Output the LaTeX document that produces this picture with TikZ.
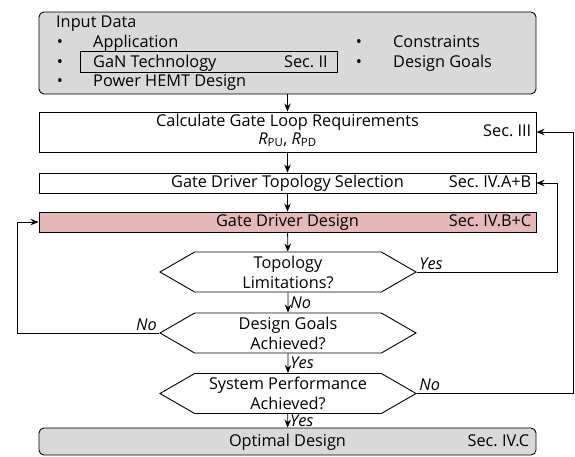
\documentclass[tikz,border=0pt]{standalone}
\usepackage{fontspec}
\setmainfont{Open Sans}
\usetikzlibrary{arrows.meta,shapes.symbols}
\definecolor{inputgray}{RGB}{217,217,217}
\definecolor{designred}{RGB}{230,185,184}
\newcommand\chartfont{\fontsize{16.3}{20}\selectfont}

\tikzset{
	oneline/.style={text height=12pt, text depth=3pt},
	stepbox/.style={draw, line width=0.9pt, minimum width=497pt, inner sep=0pt},
	decision/.style={draw, line width=0.9pt, shape=signal, signal to=west and east,
		signal pointer angle=60, minimum width=256pt, minimum height=40pt,
		inner sep=0pt, align=center},
	flow/.style={-{Stealth[length=8pt,width=6.5pt]}, line width=0.8pt},
	answer/.style={font=\chartfont\itshape, inner sep=2pt},
	secref/.style={anchor=east, inner sep=0pt, oneline},
	bullet/.style={anchor=base, inner sep=0pt},
	item/.style={anchor=base west, inner sep=0pt},
}

\begin{document}
\begin{tikzpicture}[x=1pt, y=-1pt, font=\chartfont]
		%%%%% START %%%%%
		\useasboundingbox (0,0) rectangle (575,456);
		
		% input data block
		\node[stepbox, fill=inputgray, rounded corners=5pt, minimum height=82pt] (input) at (287.5,53) {};
		\node[item] (title) at (56,27) {Input Data};
		\node[bullet] (b1) at (60,47.5) {•};
		\node[bullet] (b2) at (60,67) {•};
		\node[bullet] (b3) at (60,86) {•};
		\node[item] (app) at (93,47.5) {Application};
		\node[item] (gan) at (93,67) {GaN Technology};
		\node[item] (hemt) at (93,86) {Power HEMT Design};
		\node[draw, line width=0.8pt, minimum width=257pt, minimum height=21pt, anchor=west] (ganbox) at (80,61.5) {};
		\node[secref] at ([xshift=-10pt,yshift=-1pt]ganbox.east) {Sec.~II};
		\node[bullet] (b4) at (359,47.5) {•};
		\node[bullet] (b5) at (359,67) {•};
		\node[item] (cons) at (393,47.5) {Constraints};
		\node[item] (goals) at (393,67) {Design Goals};
		
		% design steps
		\node[stepbox, minimum height=40pt, align=center, text depth=6pt] (calc) at (287.5,132)
			{Calculate Gate Loop Requirements\\[-2pt]{\itshape R}\textsubscript{PU}, {\itshape R}\textsubscript{PD}};
		\node[secref] at ([xshift=-5pt]calc.east) {Sec.~III};
		
		\node[stepbox, oneline, minimum height=20pt] (topo) at (287.5,183) {Gate Driver Topology Selection};
		\node[secref] at ([xshift=-5pt]topo.east) {Sec.~IV.A+B};
		
		\node[stepbox, oneline, fill=designred, minimum height=20pt] (gdd) at (287.5,222) {Gate Driver Design};
		\node[secref] at ([xshift=-5pt]gdd.east) {Sec.~IV.B+C};
		
		\node[decision] (lim) at (288,272) {Topology\\Limitations?};
		\node[decision] (goal) at (288,333) {Design Goals\\Achieved?};
		\node[decision] (perf) at (288,393.5) {System Performance\\Achieved?};
		
		\node[stepbox, oneline, fill=inputgray, rounded corners=5pt, minimum height=27pt] (opt) at (287.5,441.5) {Optimal Design};
		\node[secref] at ([xshift=-7pt]opt.east) {Sec.~IV.C};
		
		% main flow
		\draw[flow] (input) -- (calc);
		\draw[flow] (calc) -- (topo);
		\draw[flow] (topo) -- (gdd);
		\draw[flow] (gdd) -- (lim);
		\draw[flow] (lim) -- node[answer, right] {No} (goal);
		\draw[flow] (goal) -- node[answer, right] {Yes} (perf);
		\draw[flow] (perf) -- node[answer, right] {Yes} (opt);
		
		% loops back
		\draw[flow] (lim.east) -- node[answer, pos=0, anchor=south west] {Yes} ++(140pt,0) |- (topo.east);
		\draw[flow] (perf.east) -- node[answer, pos=0, anchor=south west] {No} ++(156pt,0) |- (calc.east);
		\draw[flow] (goal.west) -- node[answer, pos=0, anchor=south east] {No} ++(-142pt,0) |- (gdd.west);
		%%%%% END %%%%%
\end{tikzpicture}
\end{document}
